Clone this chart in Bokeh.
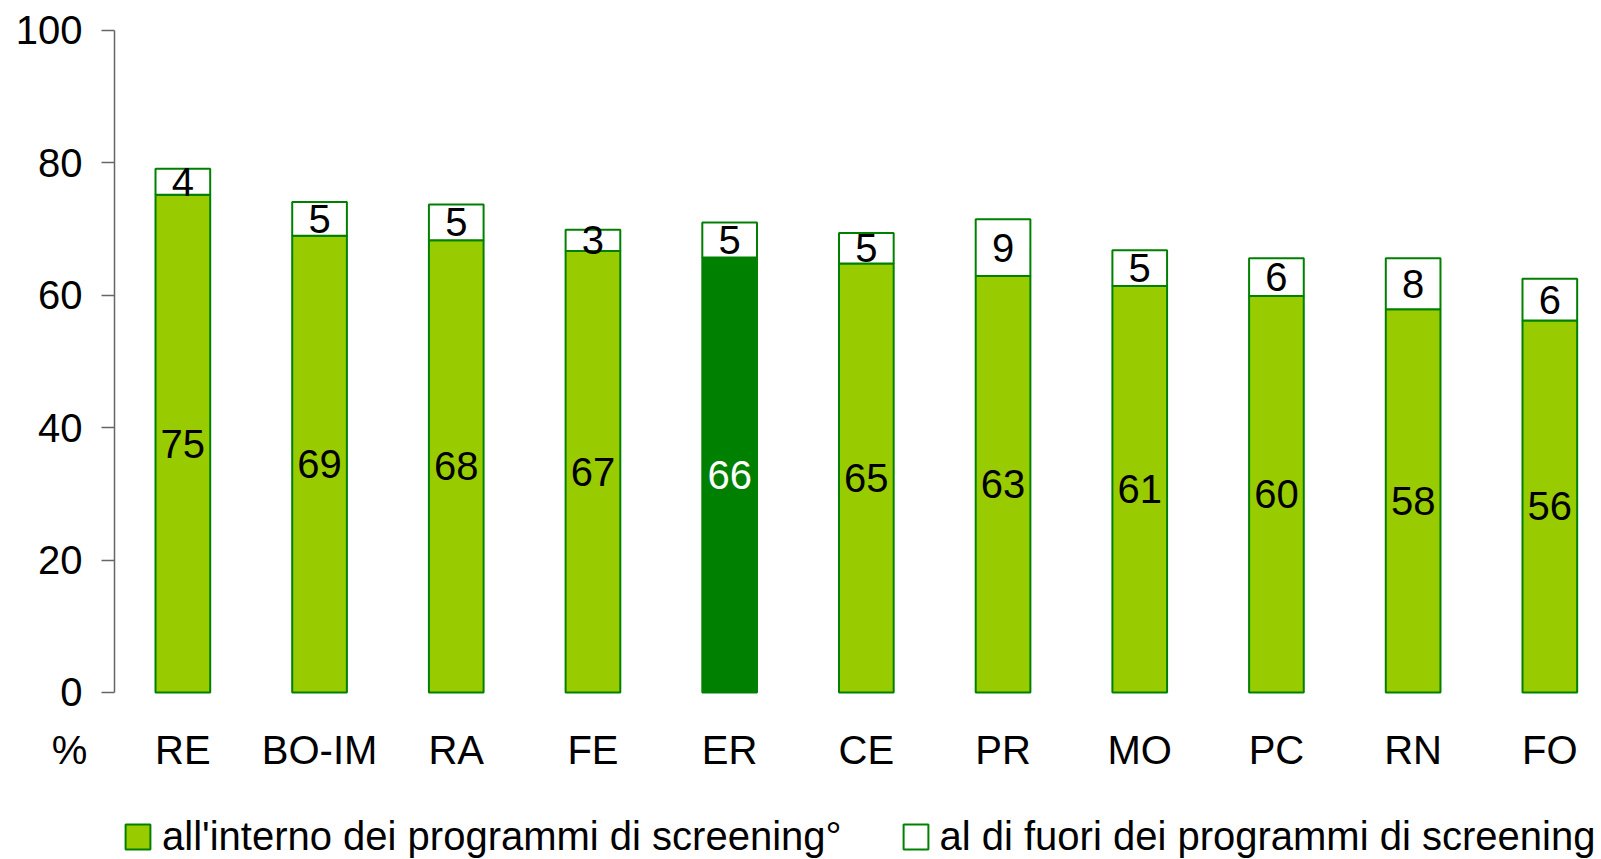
from bokeh.plotting import figure
from bokeh.models import (ColumnDataSource, Range1d, FixedTicker, Legend, LegendItem, Label)
from bokeh.core.properties import value
from bokeh.embed import file_html
from bokeh.resources import INLINE

categories = ["RE", "BO-IM", "RA", "FE", "ER", "CE", "PR", "MO", "PC", "RN", "FO"]
inside = [75.2, 69.0, 68.3, 66.7, 65.7, 64.8, 62.9, 61.4, 59.9, 57.9, 56.2]
outside = [3.9, 5.1, 5.4, 3.2, 5.3, 4.6, 8.6, 5.4, 5.7, 7.7, 6.3]
highlight = "ER"
y_ticks = [0, 20, 40, 60, 80, 100]
legend_labels = ["all'interno dei programmi di screening°", "al di fuori dei programmi di screening"]

FONT = "Liberation Sans"
LIGHT = "#99CC00"
DARK = "#008000"
AXIS = "#666666"

n = len(categories)
xs = list(range(n))
src = ColumnDataSource(dict(
    x=xs,
    cat=categories,
    inside=inside,
    outside=outside,
    total=[a + b for a, b in zip(inside, outside)],
    mid_in=[a / 2 for a in inside],
    mid_out=[a + b / 2 for a, b in zip(inside, outside)],
    lab_in=[f"{v:.0f}" for v in inside],
    lab_out=[f"{v:.0f}" for v in outside],
    fill=[DARK if c == highlight else LIGHT for c in categories],
    tcol=["white" if c == highlight else "black" for c in categories],
))

p = figure(width=1601, height=859, output_backend="svg", toolbar_location=None,
           x_range=Range1d(-1.334, 10.378), y_range=Range1d(-25.23, 104.53),
           min_border=0)
p.outline_line_color = None
p.grid.grid_line_color = None
p.background_fill_color = "white"
p.border_fill_color = "white"

r_in = p.vbar(x="x", top="inside", bottom=0, width=0.4, source=src,
              fill_color="fill", line_color=DARK, line_width=2)
r_out = p.vbar(x="x", top="total", bottom="inside", width=0.4, source=src,
               fill_color="white", line_color=DARK, line_width=2)

p.text(x="x", y="mid_in", text="lab_in", source=src, text_color="tcol",
       text_font=value(FONT), text_font_size="40px", text_align="center", text_baseline="middle")
p.text(x="x", y="mid_out", text="lab_out", source=src, text_color="black",
       text_font=value(FONT), text_font_size="40px", text_align="center", text_baseline="middle")

# y axis, drawn inside the frame at the left edge of the first category
ya = p.yaxis[0]
ya.fixed_location = -0.5
ya.bounds = (0, 100)
ya.ticker = FixedTicker(ticks=y_ticks)
ya.axis_line_color = AXIS
ya.axis_line_width = 1.5
ya.major_tick_line_color = AXIS
ya.major_tick_line_width = 1.5
ya.major_tick_out = 13
ya.major_tick_in = 0
ya.minor_tick_line_color = None
ya.major_label_standoff = 19
ya.major_label_text_font = FONT
ya.major_label_text_font_size = "40px"
ya.major_label_text_color = "black"

# x axis, drawn at y = 0
xa = p.xaxis[0]
xa.fixed_location = 0
xa.ticker = FixedTicker(ticks=xs)
xa.major_label_overrides = {i: c for i, c in enumerate(categories)}
xa.axis_line_color = None
xa.major_tick_line_color = None
xa.minor_tick_line_color = None
xa.major_tick_out = 0
xa.major_tick_in = 0
xa.major_label_standoff = 36
xa.major_label_text_font = FONT
xa.major_label_text_font_size = "40px"
xa.major_label_text_color = "black"

p.add_layout(Label(x=-0.5, y=0, x_offset=-45, y_offset=-58, text="%",
                   text_font=FONT, text_font_size="40px", text_align="center",
                   text_baseline="middle", text_color="black"))

legend = Legend(items=[LegendItem(label=legend_labels[0], renderers=[r_in], index=0),
                       LegendItem(label=legend_labels[1], renderers=[r_out], index=0)],
                orientation="horizontal", location=(122, 0),
                glyph_width=31, glyph_height=31, label_standoff=9, spacing=58,
                padding=0, margin=0, border_line_color=None, background_fill_alpha=0,
                label_text_font=FONT, label_text_font_size="40px", label_text_color="black")
p.add_layout(legend, "center")

open("out.html", "w").write(file_html(p, INLINE))
